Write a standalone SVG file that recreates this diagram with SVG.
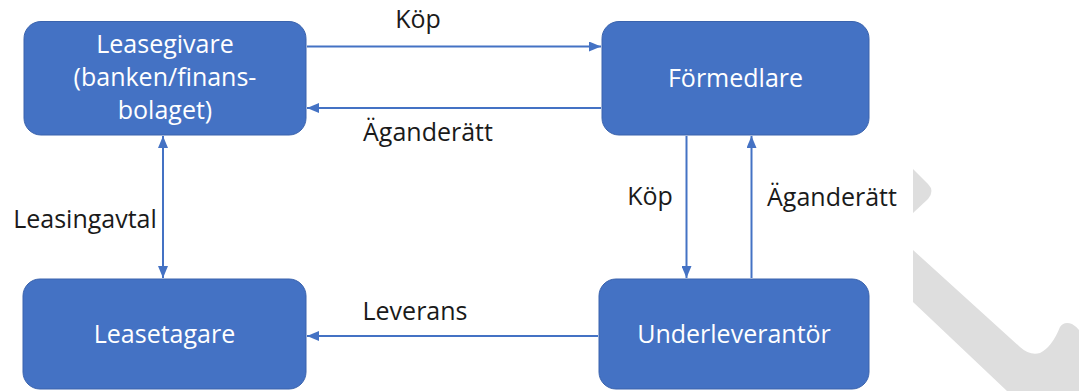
<svg xmlns="http://www.w3.org/2000/svg" width="1079" height="391" viewBox="0 0 1079 391">
  <style>
    .box { fill: #4472C4; stroke: #3A63AD; stroke-width: 1; }
    .bt { font-family: "Open Sans", "Liberation Sans", sans-serif; font-size: 25px; fill: #FFFFFF; text-anchor: middle; }
    .lbl { font-family: "Open Sans", "Liberation Sans", sans-serif; font-size: 25px; fill: #1A1A1A; text-anchor: middle; }
    .conn { stroke: #4472C4; stroke-width: 2; fill: none; }
    .wm { fill: #DEDEDE; stroke: none; }
  </style>
  <defs>
    <marker id="ah" viewBox="0 0 12 10" refX="12" refY="5" markerWidth="12" markerHeight="10" markerUnits="userSpaceOnUse" orient="auto-start-reverse">
      <path d="M0,0 L12,5 L0,10 Z" fill="#4472C4"/>
    </marker>
  </defs>
  <g id="watermark">
    <path class="wm" d="M913,169 L928,184 Q935,191 928,199 L913,213 Z"/>
    <path class="wm" d="M913,250 L1020,347 Q1030,356 1040,353 Q1052,347 1060,327 Q1064,321 1072,324 Q1077,327 1079,330 L1079,391 L1007,391 L913,302 Z"/>
  </g>
  <g id="connectors">
    <line class="conn" x1="307" y1="46.5" x2="601" y2="46.5" marker-end="url(#ah)"/>
    <line class="conn" x1="601" y1="108" x2="307" y2="108" marker-end="url(#ah)"/>
    <line class="conn" x1="163" y1="136" x2="163" y2="278" marker-start="url(#ah)" marker-end="url(#ah)"/>
    <line class="conn" x1="686.5" y1="136" x2="686.5" y2="278" marker-end="url(#ah)"/>
    <line class="conn" x1="751.5" y1="278" x2="751.5" y2="136" marker-end="url(#ah)"/>
    <line class="conn" x1="598" y1="336" x2="307" y2="336" marker-end="url(#ah)"/>
    <text class="lbl" x="418" y="28">Köp</text>
    <text class="lbl" x="428" y="141">Äganderätt</text>
    <text class="lbl" x="85" y="228">Leasingavtal</text>
    <text class="lbl" x="650" y="205">Köp</text>
    <text class="lbl" x="832" y="206">Äganderätt</text>
    <text class="lbl" x="415" y="320">Leverans</text>
  </g>
  <g id="leasegivare">
    <rect class="box" x="24" y="21.5" width="282" height="113.5" rx="17"/>
    <text class="bt" x="165" y="53">Leasegivare</text>
    <text class="bt" x="165" y="86">(banken/finans-</text>
    <text class="bt" x="165" y="119">bolaget)</text>
  </g>
  <g id="formedlare">
    <rect class="box" x="602" y="21.5" width="267" height="113.5" rx="17"/>
    <text class="bt" x="735.5" y="87">Förmedlare</text>
  </g>
  <g id="leasetagare">
    <rect class="box" x="23" y="279" width="283" height="110" rx="17"/>
    <text class="bt" x="164.5" y="343">Leasetagare</text>
  </g>
  <g id="underleverantor">
    <rect class="box" x="599" y="279" width="270" height="110" rx="17"/>
    <text class="bt" x="734" y="343">Underleverantör</text>
  </g>
</svg>
